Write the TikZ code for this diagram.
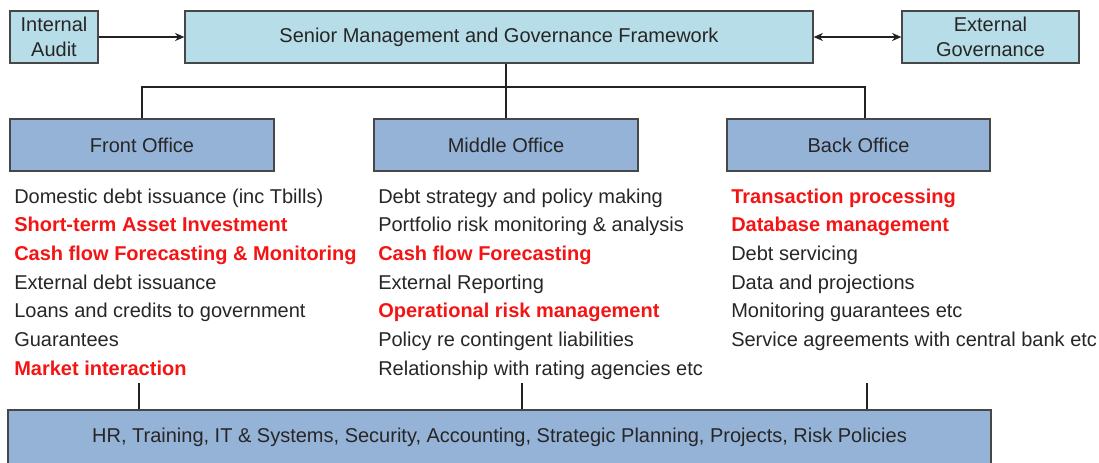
\documentclass[tikz,border=0pt]{standalone}
\usepackage{fontspec}
\setmainfont{Liberation Sans}
\usetikzlibrary{arrows.meta}

\definecolor{paleblue}{HTML}{B7DDE8}
\definecolor{officeblue}{HTML}{95B3D7}
\definecolor{hotred}{HTML}{F41414}
\definecolor{ink}{HTML}{262626}

\newcommand{\hotitem}[1]{\textcolor{hotred}{\bfseries #1}}

\tikzset{
  topbox/.style={draw=ink!85, line width=0.9pt, fill=paleblue, text=ink, align=center, inner sep=0pt,
    font=\fontsize{15}{19}\selectfont},
  officebox/.style={draw=ink!85, line width=0.9pt, fill=officeblue, text=ink, inner sep=0pt},
  item/.style={anchor=base west, inner sep=0pt, text=ink},
  link/.style={line width=1.3pt, draw=ink!90!black}
}

\begin{document}
\begin{tikzpicture}[x=0.75pt, y=-0.75pt, font=\fontsize{15}{18.5}\selectfont]
\useasboundingbox (0,0) rectangle (1099,462);
\clip (0,0) rectangle (1099,462);

\node[topbox, minimum width=66pt, minimum height=39pt] (audit) at (54,37) {Internal\\Audit};
\node[topbox, minimum width=471pt, minimum height=39pt] (senior) at (499,37) {\strut Senior Management and Governance Framework};
\node[topbox, minimum width=132.75pt, minimum height=39pt] (extgov) at (990.5,37) {External\\Governance};

\node[officebox, minimum width=198pt, minimum height=39pt] (front) at (142,145) {Front Office};
\node[officebox, minimum width=198pt, minimum height=39pt] (middle) at (506,145) {Middle Office};
\node[officebox, minimum width=197.25pt, minimum height=39pt] (back) at (858.5,145) {Back Office};

\node[officebox, minimum width=737.25pt, minimum height=40.5pt] (support) at (499.5,437)
  {HR, Training, IT \& Systems, Security, Accounting, Strategic Planning, Projects, Risk Policies};

\draw[link, -{Stealth[length=7pt, width=6pt]}] (audit.east) -- (senior.west);
\draw[link, {Stealth[length=7pt, width=6pt]}-{Stealth[length=7pt, width=6pt]}] (senior.east) -- (extgov.west);

\coordinate (bus) at (0,87);
\coordinate (backstem) at (865,0);
\draw[link] (front.north) |- (bus -| backstem) -- (backstem |- back.north);
\draw[link] (middle.north |- senior.south) -- (middle.north);

\foreach \t [count=\i] in {Domestic debt issuance (inc Tbills), \hotitem{Short-term Asset Investment},
    \hotitem{Cash flow Forecasting \& Monitoring}, External debt issuance,
    Loans and credits to government, Guarantees, \hotitem{Market interaction}}
  \node[item] (fo\i) at (14,{203+28.7*(\i-1)}) {\t};

\foreach \t [count=\i] in {Debt strategy and policy making, Portfolio risk monitoring \& analysis,
    \hotitem{Cash flow Forecasting}, External Reporting, \hotitem{Operational risk management},
    Policy re contingent liabilities, Relationship with rating agencies etc}
  \node[item] (mo\i) at (378,{203+28.7*(\i-1)}) {\t};

\foreach \t [count=\i] in {\hotitem{Transaction processing}, \hotitem{Database management},
    Debt servicing, Data and projections, Monitoring guarantees etc,
    Service agreements with central bank etc}
  \node[item] (bo\i) at (731,{203+28.7*(\i-1)}) {\t};

\coordinate (fotick) at (139,383);
\coordinate (motick) at (522,383);
\coordinate (botick) at (867,383);
\draw[link] (fotick) -- (fotick |- support.north);
\draw[link] (motick) -- (motick |- support.north);
\draw[link] (botick) -- (botick |- support.north);
\end{tikzpicture}
\end{document}
